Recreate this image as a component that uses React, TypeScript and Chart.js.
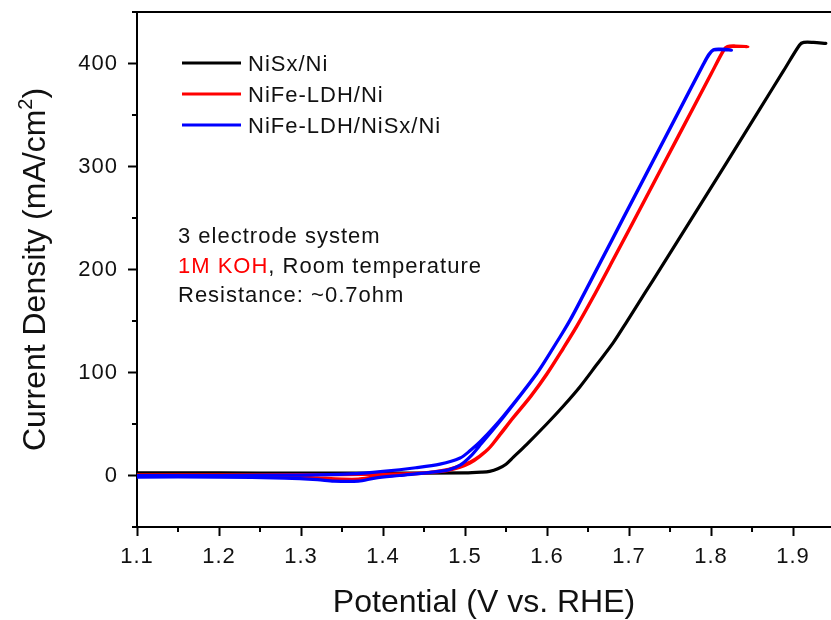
import React, { useEffect, useRef } from 'react';
import { Chart, registerables } from 'chart.js';

Chart.register(...registerables);

const FONT = '"Liberation Sans", Arial, Helvetica, sans-serif';

// Axis ticks
const xMajorTicks = [1.1, 1.2, 1.3, 1.4, 1.5, 1.6, 1.7, 1.8, 1.9];
const xMinorTicks = [1.15, 1.25, 1.35, 1.45, 1.55, 1.65, 1.75, 1.85];
const yMajorTicks = [0, 100, 200, 300, 400];
const yMinorTicks = [-50, 50, 150, 250, 350, 450];

const xTitle = 'Potential (V vs. RHE)';
const yTitleMain = 'Current Density (mA/cm';
const yTitleSup = '2';
const yTitleEnd = ')';

// Series
const seriesNames = ['NiSx/Ni', 'NiFe-LDH/Ni', 'NiFe-LDH/NiSx/Ni'];
const seriesColors = ['#000000', '#ff0000', '#0000ff'];

// NiSx/Ni (potential V, current mA/cm2)
const nisxV = [1.10, 1.20, 1.30, 1.40, 1.50, 1.52, 1.53, 1.54, 1.55, 1.559, 1.575, 1.5996, 1.62, 1.64, 1.66, 1.6808, 1.697, 1.72, 1.738, 1.78, 1.82, 1.86, 1.8885, 1.908, 1.913, 1.925, 1.94];
const nisxJ = [2.5, 2.5, 2.3, 2.3, 2.5, 3.2, 4, 6.5, 11, 17.8, 30, 50, 67.5, 86, 107, 129, 149, 178, 200.6, 254, 305, 356.5, 393, 418, 420.5, 420.5, 419.5];

// NiFe-LDH/Ni: forward scan then backward scan
const ldhV = [1.10, 1.20, 1.28, 1.32, 1.35, 1.37, 1.39, 1.42, 1.46, 1.48, 1.494, 1.506, 1.518, 1.53, 1.5427, 1.5589, 1.58, 1.5996, 1.62, 1.6362, 1.656, 1.6782, 1.72, 1.76, 1.80, 1.8153, 1.82, 1.83, 1.845,
  1.83, 1.82, 1.8153, 1.80, 1.76, 1.72, 1.6782, 1.656, 1.6362, 1.62, 1.5996, 1.58, 1.5589, 1.5427, 1.53, 1.518, 1.506, 1.494, 1.48, 1.45, 1.40, 1.30, 1.20, 1.10];
const ldhJ = [-0.5, -0.8, -1.2, -2.5, -3.5, -3.5, -1.5, 0.5, 3, 5, 8, 12, 18.5, 27, 40, 56.6, 77, 98.7, 124, 145, 173, 206, 269, 329.5, 390, 413, 416.5, 417, 416.5,
  416.5, 416, 412.5, 389.5, 329, 268.5, 205.5, 172.5, 144.5, 123.5, 98, 76.5, 56, 39.5, 27, 19, 13, 9.5, 6, 2.5, 1.2, 0.8, 0.7, 0.7];

// NiFe-LDH/NiSx/Ni: forward scan then backward scan
const hybV = [1.10, 1.20, 1.28, 1.32, 1.34, 1.37, 1.39, 1.42, 1.46, 1.48, 1.494, 1.506, 1.52, 1.5467, 1.5874, 1.61, 1.628, 1.645, 1.6646, 1.6929, 1.7256, 1.7583, 1.791, 1.7975, 1.803, 1.812, 1.825,
  1.812, 1.803, 1.7975, 1.791, 1.7583, 1.7256, 1.6929, 1.6646, 1.645, 1.628, 1.61, 1.5874, 1.5467, 1.52, 1.506, 1.494, 1.4695, 1.44, 1.40, 1.36, 1.30, 1.20, 1.10];
const hybJ = [-1.5, -1.5, -2.5, -4, -5.5, -5.5, -2.5, 0, 3.2, 5.5, 10, 18, 31, 56.6, 98.7, 127, 151, 176.5, 206.5, 250, 300, 350, 400, 409, 413.5, 414, 413,
  413.5, 413, 408.5, 399.5, 349.5, 299.5, 249.5, 206, 176, 150.5, 127, 99, 57.5, 34, 24, 17, 11, 7.5, 4, 1.5, 0.3, 0, 0];

// Annotation
const noteLine1 = '3 electrode system';
const noteLine2Red = '1M KOH';
const noteLine2Rest = ', Room temperature';
const noteLine3 = 'Resistance: ~0.7ohm';

const toPoints = (v: number[], j: number[]) => v.map((x, i) => ({ x, y: j[i] }));

const decorPlugin = {
  id: 'decor',
  beforeDraw(chart: any) {
    chart.ctx.letterSpacing = '1px';
  },
  afterDraw(chart: any) {
    const { ctx, chartArea, scales } = chart;
    const xs = scales.x;
    const ys = scales.y;
    ctx.save();
    ctx.strokeStyle = '#000';
    ctx.lineWidth = 2;
    ctx.lineCap = 'butt';
    // top frame line
    ctx.beginPath();
    ctx.moveTo(chartArea.left - 1, chartArea.top);
    ctx.lineTo(chartArea.right, chartArea.top);
    ctx.stroke();
    // minor ticks
    ctx.beginPath();
    xMinorTicks.forEach((v) => {
      const px = xs.getPixelForValue(v);
      ctx.moveTo(px, chartArea.bottom);
      ctx.lineTo(px, chartArea.bottom + 5);
    });
    yMinorTicks.forEach((v) => {
      const py = ys.getPixelForValue(v);
      ctx.moveTo(chartArea.left, py);
      ctx.lineTo(chartArea.left - 5, py);
    });
    ctx.stroke();

    // legend
    ctx.font = `22px ${FONT}`;
    ctx.letterSpacing = '1px';
    ctx.textBaseline = 'alphabetic';
    ctx.textAlign = 'left';
    const legendY = [63, 94, 125];
    seriesNames.forEach((name, i) => {
      ctx.strokeStyle = seriesColors[i];
      ctx.lineWidth = 3;
      ctx.beginPath();
      ctx.moveTo(182, legendY[i]);
      ctx.lineTo(241, legendY[i]);
      ctx.stroke();
      ctx.fillStyle = '#111';
      ctx.fillText(name, 248, legendY[i] + 8);
    });

    // annotation
    ctx.fillStyle = '#111';
    ctx.fillText(noteLine1, 178, 243);
    ctx.fillStyle = '#ff0000';
    ctx.fillText(noteLine2Red, 178, 273);
    const wRed = ctx.measureText(noteLine2Red).width;
    ctx.fillStyle = '#111';
    ctx.fillText(noteLine2Rest, 178 + wRed, 273);
    ctx.fillText(noteLine3, 178, 302);

    // x title
    ctx.letterSpacing = '0px';
    ctx.font = `32px ${FONT}`;
    ctx.textAlign = 'center';
    ctx.fillText(xTitle, (chartArea.left + chartArea.right) / 2, 612);

    // y title (rotated, with superscript)
    ctx.save();
    ctx.translate(45, (chartArea.top + chartArea.bottom) / 2);
    ctx.rotate(-Math.PI / 2);
    ctx.textAlign = 'left';
    ctx.font = `32px ${FONT}`;
    const w1 = ctx.measureText(yTitleMain).width;
    const w3 = ctx.measureText(yTitleEnd).width;
    ctx.font = `20px ${FONT}`;
    const w2 = ctx.measureText(yTitleSup).width;
    const total = w1 + w2 + w3;
    let x0 = -total / 2;
    ctx.font = `32px ${FONT}`;
    ctx.fillText(yTitleMain, x0, 0);
    x0 += w1;
    ctx.font = `20px ${FONT}`;
    ctx.fillText(yTitleSup, x0, -13);
    x0 += w2;
    ctx.font = `32px ${FONT}`;
    ctx.fillText(yTitleEnd, x0, 0);
    ctx.restore();

    ctx.restore();
  },
};

export default function App() {
  const canvasRef = useRef<HTMLCanvasElement | null>(null);

  useEffect(() => {
    if (!canvasRef.current) return;
    const common = {
      showLine: true,
      pointRadius: 0,
      borderWidth: 3.2,
      tension: 0.3,
      fill: false,
      borderJoinStyle: 'round',
      borderCapStyle: 'round',
    };
    const chart = new Chart(canvasRef.current, {
      type: 'scatter',
      data: {
        datasets: [
          { ...common, label: seriesNames[0], data: toPoints(nisxV, nisxJ), borderColor: seriesColors[0], backgroundColor: seriesColors[0], order: 3 },
          { ...common, label: seriesNames[1], data: toPoints(ldhV, ldhJ), borderColor: seriesColors[1], backgroundColor: seriesColors[1], order: 2 },
          { ...common, label: seriesNames[2], data: toPoints(hybV, hybJ), borderColor: seriesColors[2], backgroundColor: seriesColors[2], order: 1 },
        ],
      },
      options: {
        animation: false,
        responsive: false,
        devicePixelRatio: 1,
        layout: { padding: { top: 12, left: 0, right: 0, bottom: 0 } },
        plugins: { legend: { display: false }, tooltip: { enabled: false }, title: { display: false } },
        scales: {
          x: {
            type: 'linear',
            min: 1.1,
            max: 1.9463,
            afterBuildTicks: (s: any) => {
              s.ticks = xMajorTicks.map((v) => ({ value: v }));
            },
            afterFit: (s: any) => {
              s.height = 93;
              s.paddingLeft = 0;
              s.paddingRight = 0;
            },
            ticks: {
              font: { family: FONT, size: 22 },
              color: '#111',
              padding: 8,
              maxRotation: 0,
              autoSkip: false,
              callback: (v: any) => Number(v).toFixed(1),
            },
            grid: { drawOnChartArea: false, drawTicks: true, tickLength: 9, tickWidth: 2, tickColor: '#000' },
            border: { display: true, color: '#000', width: 2 },
          },
          y: {
            type: 'linear',
            min: -50,
            max: 450,
            afterBuildTicks: (s: any) => {
              s.ticks = yMajorTicks.map((v) => ({ value: v }));
            },
            afterFit: (s: any) => {
              s.width = 137;
              s.paddingTop = 0;
              s.paddingBottom = 0;
            },
            ticks: {
              font: { family: FONT, size: 22 },
              color: '#111',
              padding: 10,
              autoSkip: false,
              callback: (v: any) => String(v),
            },
            grid: { drawOnChartArea: false, drawTicks: true, tickLength: 9, tickWidth: 2, tickColor: '#000' },
            border: { display: true, color: '#000', width: 2 },
          },
        },
      } as any,
      plugins: [decorPlugin],
    });
    return () => chart.destroy();
  }, []);

  return (
    <div style={{ position: 'absolute', left: 0, top: 0, width: 831, height: 620, background: '#fff' }}>
      <canvas ref={canvasRef} width={831} height={620} style={{ display: 'block' }} />
    </div>
  );
}
